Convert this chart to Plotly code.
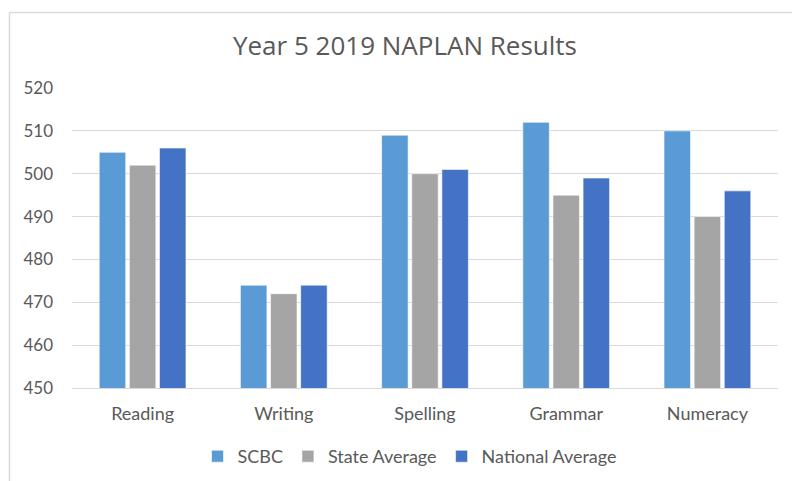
import plotly.graph_objects as go

categories = ["Reading", "Writing", "Spelling", "Grammar", "Numeracy"]
scbc = [505, 474, 509, 512, 510]
state_avg = [502, 472, 500, 495, 490]
national_avg = [506, 474, 501, 499, 496]
series_names = ["SCBC", "State Average", "National Average"]
colors = ["#5B9BD5", "#A5A5A5", "#4472C4"]
y_ticks = [450, 460, 470, 480, 490, 500, 510, 520]

W, H = 792, 481
L, R, T, B = 72, 14, 88, 93
pw, ph = W - L - R, H - T - B


def px_x(x):
    return (x - L) / pw


def px_y(y):
    return (H - B - y) / ph


fig = go.Figure()
for name, vals, col in zip(series_names, [scbc, state_avg, national_avg], colors):
    fig.add_trace(go.Bar(
        x=categories, y=vals, name=name,
        marker=dict(color=col, line=dict(color="rgba(255,255,255,0.6)", width=1)),
    ))

font_main = "Lato, 'Open Sans', sans-serif"
gray = "#595959"

# chart-area border (left and top edges visible)
bx = px_x(9.5)
by = px_y(12.5)
fig.add_shape(type="line", xref="paper", yref="paper", x0=bx, x1=1.2, y0=by, y1=by,
              line=dict(color="#D9D9D9", width=1.5))
fig.add_shape(type="line", xref="paper", yref="paper", x0=bx, x1=bx, y0=by, y1=-0.5,
              line=dict(color="#D9D9D9", width=1.5))

fig.update_layout(
    width=W, height=H,
    margin=dict(l=L, r=R, t=T, b=B, autoexpand=False),
    paper_bgcolor="white", plot_bgcolor="white",
    barmode="group", bargap=0.36, bargroupgap=0.12,
    title=dict(text="Year 5 2019 NAPLAN Results", x=405 / W, xref="container",
               xanchor="center", y=1 - 46 / H, yref="container", yanchor="middle",
               font=dict(family="'Century Gothic', 'Open Sans', sans-serif", size=26, color=gray)),
    font=dict(family=font_main, size=17, color=gray),
    legend=dict(orientation="h", x=410 / W, xref="container", xanchor="center",
                y=1 - 456.5 / H, yref="container", yanchor="middle",
                font=dict(size=18, color=gray), itemwidth=30, traceorder="normal"),
    yaxis=dict(range=[450, 520], tickvals=y_ticks, showgrid=True, gridcolor="#D9D9D9",
               gridwidth=1, zeroline=False, showline=False, ticks="", automargin=False,
               ticklabelstandoff=18, tickfont=dict(size=17, color=gray)),
    xaxis=dict(showline=True, linecolor="#D9D9D9", linewidth=1, ticks="", automargin=False,
               ticklabelstandoff=9, tickfont=dict(size=18, color=gray)),
)

fig.write_html(
    "out.html",
    config={"displayModeBar": False},
    post_script="document.body.style.margin='0';document.body.style.overflow='hidden';",
)
